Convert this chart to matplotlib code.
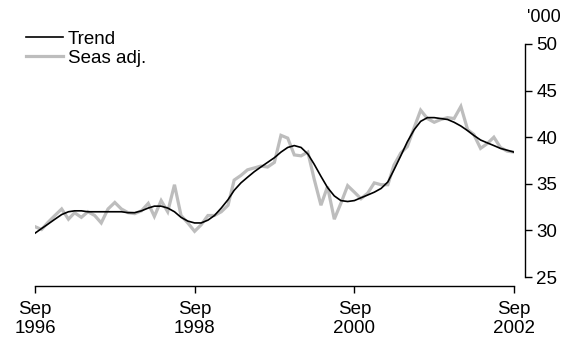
import pandas as pd
import matplotlib
matplotlib.use("Agg")
import matplotlib.pyplot as plt

plt.rcParams['font.family'] = ['Liberation Sans', 'DejaVu Sans']

# monthly, Sep 1996 .. Sep 2002 ('000)
months = pd.date_range("1996-09-01", "2002-09-01", freq="MS")

trend = [29.7, 30.2, 30.7, 31.2, 31.7, 32.0, 32.1, 32.1, 32.0, 32.0,
         32.0, 32.0, 32.0, 32.0, 31.9, 31.9, 32.1, 32.4, 32.6, 32.6,
         32.4, 32.0, 31.4, 31.0, 30.8, 30.8, 31.1, 31.6, 32.4, 33.3,
         34.3, 35.1, 35.7, 36.3, 36.8, 37.3, 37.8, 38.4, 38.9, 39.1,
         38.9, 38.2, 37.1, 35.8, 34.6, 33.7, 33.2, 33.1, 33.2, 33.5,
         33.8, 34.1, 34.5, 35.2, 36.5, 38.0, 39.5, 40.8, 41.7, 42.1,
         42.1, 42.0, 41.9, 41.6, 41.2, 40.7, 40.2, 39.7, 39.4, 39.1,
         38.8, 38.6, 38.4]

seas_adj = [30.4, 30.1, 30.9, 31.6, 32.3, 31.2, 31.9, 31.4, 32.0, 31.6,
            30.8, 32.3, 33.0, 32.3, 31.9, 31.8, 32.1, 32.9, 31.5, 33.2,
            32.0, 34.9, 31.6, 30.8, 29.9, 30.6, 31.6, 31.6, 32.0, 32.7,
            35.4, 35.9, 36.5, 36.7, 36.9, 36.8, 37.3, 40.2, 39.9, 38.1,
            38.0, 38.4, 35.5, 32.7, 34.7, 31.2, 32.9, 34.8, 34.1, 33.4,
            34.0, 35.1, 34.9, 34.9, 37.0, 38.3, 39.0, 41.0, 42.9, 42.0,
            41.6, 41.9, 42.1, 42.0, 43.3, 40.8, 40.3, 38.8, 39.3, 40.0,
            38.9, 38.5, 38.4]

tick_dates = pd.to_datetime(["1996-09-01", "1998-09-01", "2000-09-01", "2002-09-01"])
tick_labels = ["Sep\n1996", "Sep\n1998", "Sep\n2000", "Sep\n2002"]
y_ticks = [25, 30, 35, 40, 45, 50]

fs = 13.5

fig = plt.figure(figsize=(5.64, 3.37), dpi=100)
ax = fig.add_axes([35 / 564, 60 / 337, 479 / 564, 233 / 337])

ax.plot(months, seas_adj, color="#bdbdbd", lw=2.3, label="Seas adj.", solid_joinstyle="miter")
ax.plot(months, trend, color="black", lw=1.2, label="Trend")

ax.set_xlim(months[0], months[-1])
ax.set_ylim(25, 50)

for s in ("top", "left"):
    ax.spines[s].set_visible(False)
ax.spines["right"].set_position(("outward", 8))
ax.spines["bottom"].set_position(("outward", 6.5))
for s in ("right", "bottom"):
    ax.spines[s].set_linewidth(1.0)

ax.yaxis.tick_right()
ax.set_yticks(y_ticks)
ax.set_xticks(tick_dates)
ax.set_xticklabels(tick_labels, linespacing=1.1)
ax.tick_params(axis="both", direction="out", length=5, width=1.0, labelsize=fs)
ax.tick_params(axis="y", pad=3)
ax.tick_params(axis="x", pad=6)

fig.text(527 / 564, 1 - 17 / 337, "'000", fontsize=13, va="center", ha="left")

handles, labels = ax.get_legend_handles_labels()
ax.legend(handles[::-1], labels[::-1], loc="upper left", bbox_to_anchor=(-0.035, 1.09),
          frameon=False, fontsize=fs, handlelength=2.0, handletextpad=0.25,
          labelspacing=0.1, borderaxespad=0)

fig.savefig("out.png", dpi=100)
